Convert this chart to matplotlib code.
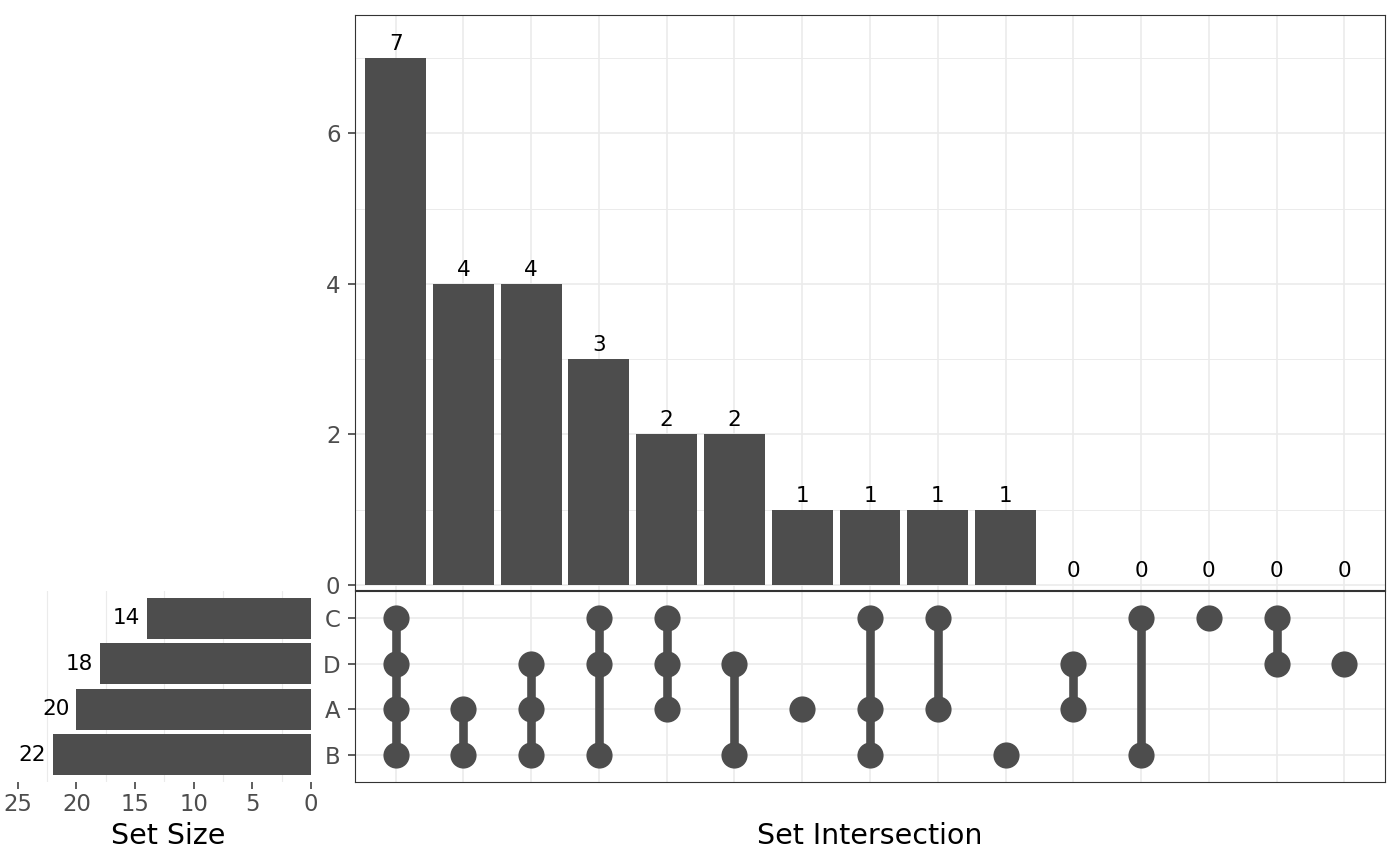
import matplotlib
matplotlib.use('Agg')
import matplotlib.pyplot as plt
import numpy as np

plt.rcParams['font.family'] = ['DejaVu Sans']

# ---- data ----
sets = ['C', 'D', 'A', 'B']          # matrix rows, top to bottom
set_sizes = [14, 18, 20, 22]
intersections = [
    ['C', 'D', 'A', 'B'], ['A', 'B'], ['D', 'A', 'B'], ['C', 'D', 'B'],
    ['C', 'D', 'A'], ['D', 'B'], ['A'], ['C', 'A', 'B'], ['C', 'A'],
    ['B'], ['D', 'A'], ['C', 'B'], ['C'], ['C', 'D'], ['D'],
]
counts = [7, 4, 4, 3, 2, 2, 1, 1, 1, 1, 0, 0, 0, 0, 0]

# ---- style ----
BAR = '#4D4D4D'
GRID = '#EBEBEB'
BORDER = '#333333'
TICKC = '#4D4D4D'
W, H = 1400, 866
TICK_FS = 16.4
LABEL_FS = 15.5
TITLE_FS = 20.5

fig = plt.figure(figsize=(W / 100, H / 100), dpi=100)


def px_axes(x0, y0, x1, y1):
    return fig.add_axes([x0 / W, 1 - y1 / H, (x1 - x0) / W, (y1 - y0) / H])


row_pos = {s: len(sets) - i for i, s in enumerate(sets)}  # C=4 ... B=1
xs = np.arange(1, len(counts) + 1)

# ---- top: intersection sizes ----
ax = px_axes(355, 15, 1385, 590)
ax.bar(xs, counts, width=0.9, color=BAR, zorder=2)
for x, c in zip(xs, counts):
    ax.annotate(str(c), (x, c), xytext=(0, 5.8), textcoords='offset points',
                ha='center', va='baseline', fontsize=LABEL_FS, color='black')
ax.set_xlim(0.4, len(counts) + 0.6)
ax.set_ylim(-0.066, 7.571)
ax.set_xticks(xs)
ax.set_yticks([0, 2, 4, 6])
ax.set_yticks([1, 3, 5, 7], minor=True)
ax.grid(which='major', color=GRID, lw=1.2, zorder=0)
ax.grid(which='minor', axis='y', color=GRID, lw=0.7, zorder=0)
ax.set_axisbelow(True)
ax.tick_params(axis='x', length=0, labelbottom=False)
ax.tick_params(axis='y', which='major', length=5, width=1.1, color=BORDER,
               labelsize=TICK_FS, labelcolor=TICKC, pad=5.5)
ax.tick_params(axis='y', which='minor', length=0)
for sp in ax.spines.values():
    sp.set_color(BORDER)
    sp.set_linewidth(0.8)

# ---- matrix ----
am = px_axes(355, 591, 1385, 782)
for x, members in zip(xs, intersections):
    ys = [row_pos[s] for s in members]
    if len(ys) > 1:
        am.plot([x, x], [min(ys), max(ys)], color=BAR, lw=6.2,
                solid_capstyle='butt', zorder=2)
    am.scatter([x] * len(ys), ys, s=355, color=BAR, zorder=3, linewidths=0)
am.set_xlim(0.4, len(counts) + 0.6)
am.set_ylim(0.4, len(sets) + 0.6)
am.set_xticks(xs)
am.set_yticks([row_pos[s] for s in sets])
am.set_yticklabels(sets)
am.grid(which='major', color=GRID, lw=1.2, zorder=0)
am.set_axisbelow(True)
am.tick_params(axis='x', length=0, labelbottom=False)
am.tick_params(axis='y', length=5, width=1.1, color=BORDER,
               labelsize=TICK_FS, labelcolor=TICKC, pad=5.5)
for sp in am.spines.values():
    sp.set_color(BORDER)
    sp.set_linewidth(0.8)

# ---- left: set sizes ----
al = px_axes(5, 591, 311, 782)
rows = [row_pos[s] for s in sets]
al.barh(rows, set_sizes, height=0.9, color=BAR, zorder=2)
for r, v in zip(rows, set_sizes):
    al.annotate(str(v), (v, r), xytext=(-5, 0), textcoords='offset points',
                ha='right', va='center', fontsize=LABEL_FS, color='black')
al.set_xlim(26.09, 0)
al.set_ylim(0.4, len(sets) + 0.6)
al.set_xticks([0, 5, 10, 15, 20, 25])
al.set_xticks([2.5, 7.5, 12.5, 17.5, 22.5], minor=True)
al.set_yticks([])
al.grid(which='minor', axis='x', color=GRID, lw=0.8, zorder=0)
al.set_axisbelow(True)
al.tick_params(axis='x', which='major', length=5, width=1.1, color=BORDER,
               labelsize=TICK_FS, labelcolor=TICKC, pad=3)
al.tick_params(axis='x', which='minor', length=0)
for sp in al.spines.values():
    sp.set_visible(False)

# ---- titles ----
fig.text(168 / W, 1 - 836 / H, 'Set Size', ha='center', va='center',
         fontsize=TITLE_FS, color='black')
fig.text(870 / W, 1 - 836 / H, 'Set Intersection', ha='center', va='center',
         fontsize=TITLE_FS, color='black')

fig.savefig('out.png', dpi=100)
